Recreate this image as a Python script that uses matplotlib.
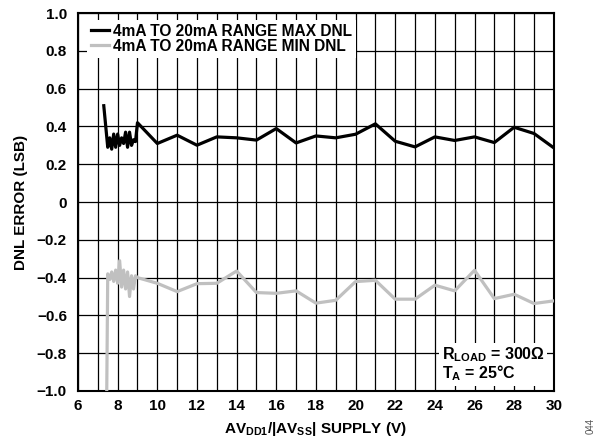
import matplotlib
matplotlib.use("Agg")
import matplotlib.pyplot as plt
import numpy as np

plt.rcParams["font.family"] = ["Liberation Sans", "DejaVu Sans"]
plt.rcParams["font.weight"] = "bold"
plt.rcParams["axes.labelweight"] = "bold"
plt.rcParams["mathtext.fontset"] = "custom"
plt.rcParams["mathtext.rm"] = "Liberation Sans:bold"
plt.rcParams["mathtext.it"] = "Liberation Sans:bold"
plt.rcParams["mathtext.bf"] = "Liberation Sans:bold"

# supply voltage (V) and DNL (LSB)
max_v = [7.3, 7.5, 7.6, 7.7, 7.8, 7.9, 8.0, 8.1, 8.2, 8.3, 8.4, 8.5, 8.6, 8.7, 8.8, 8.9,
         9, 10, 11, 12, 13, 14, 15, 16, 17, 18, 19, 20, 21, 22, 23, 24, 25, 26, 27, 28, 29, 30]
max_dnl = [0.51, 0.29, 0.34, 0.28, 0.36, 0.29, 0.36, 0.30, 0.34, 0.31, 0.37, 0.29, 0.37, 0.30, 0.33, 0.32,
           0.42, 0.31, 0.354, 0.301, 0.345, 0.340, 0.328, 0.389, 0.313, 0.350, 0.340, 0.359, 0.414,
           0.322, 0.292, 0.345, 0.326, 0.345, 0.315, 0.396, 0.363, 0.287]

min_v = [7.45, 7.5, 7.6, 7.7, 7.8, 7.9, 8.0, 8.1, 8.2, 8.3, 8.4, 8.5, 8.6, 8.7, 8.8, 8.9,
         9, 10, 11, 12, 13, 14, 15, 16, 17, 18, 19, 20, 21, 22, 23, 24, 25, 26, 27, 28, 29, 30]
min_dnl = [-1.0, -0.38, -0.41, -0.37, -0.42, -0.36, -0.43, -0.31, -0.45, -0.36, -0.46, -0.37, -0.50,
           -0.39, -0.46, -0.39, -0.40, -0.43, -0.474, -0.432, -0.43, -0.365, -0.479, -0.483, -0.47,
           -0.535, -0.52, -0.421, -0.414, -0.514, -0.514, -0.44, -0.47, -0.361, -0.511, -0.488,
           -0.537, -0.523]

x_ticks = list(range(6, 31, 2))
y_ticks = [1.0, 0.8, 0.6, 0.4, 0.2, 0, -0.2, -0.4, -0.6, -0.8, -1.0]
y_labels = ["1.0", "0.8", "0.6", "0.4", "0.2", "0", "\u22120.2", "\u22120.4", "\u22120.6", "\u22120.8", "\u22121.0"]

fig = plt.figure(figsize=(6, 4.44), dpi=100)
ax = fig.add_axes([0.13, 0.1194, 0.793, 0.851])

ax.plot(max_v, max_dnl, color="black", lw=2.3, label="4mA TO 20mA RANGE MAX DNL", zorder=3)
ax.plot(min_v, min_dnl, color="#c0c0c0", lw=2.3, label="4mA TO 20mA RANGE MIN DNL", zorder=3)

ax.set_xlim(6, 30)
ax.set_ylim(-1.0, 1.0)
ax.set_xticks(x_ticks)
ax.set_xticks(range(6, 31), minor=True)
ax.set_yticks(y_ticks)
ax.set_yticklabels(y_labels)
ax.grid(True, which="both", axis="x", color="black", lw=0.9)
ax.grid(True, which="major", axis="y", color="black", lw=0.9)
ax.tick_params(which="both", length=0, labelsize=11)
ax.tick_params(axis="y", pad=8)
ax.tick_params(axis="x", pad=6)
for s in ax.spines.values():
    s.set_linewidth(1.5)

ax.set_xlabel(r"AV$_{\mathrm{DD1}}$/|AV$_{\mathrm{SS}}$| SUPPLY (V)", fontsize=11, fontweight="bold", labelpad=5)
ax.set_ylabel("DNL ERROR (LSB)", fontsize=11, fontweight="bold", labelpad=6)

leg = ax.legend(loc="upper left", bbox_to_anchor=(0.012, 0.99), fontsize=11.2, frameon=True,
                fancybox=False, framealpha=1, edgecolor="none", handlelength=1.2,
                handletextpad=0.25, labelspacing=0.0, borderpad=0.25, borderaxespad=0.2)
leg.get_frame().set_linewidth(0)

ax.text(0.764, 0.02, "R$_{\\mathrm{LOAD}}$ = 300\u03a9\nT$_{\\mathrm{A}}$ = 25\u00b0C", transform=ax.transAxes,
        ha="left", va="bottom", fontsize=11.5, linespacing=0.95, zorder=4, multialignment="left",
        bbox=dict(facecolor="white", edgecolor="none", pad=2))

fig.text(0.985, 0.04, "044", rotation=90, fontsize=7, fontweight="normal", color="#555555",
         ha="center", va="center")

fig.savefig("out.png", dpi=100)
